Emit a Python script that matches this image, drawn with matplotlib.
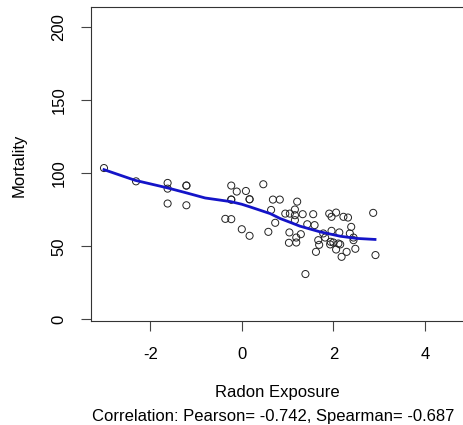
import matplotlib
matplotlib.use('Agg')
import matplotlib.pyplot as plt
import numpy as np

plt.rcParams['font.family'] = ['Liberation Sans', 'DejaVu Sans']

# radon exposure (centred log) vs mortality
radon = [-3.01, -2.31, -1.62, -1.62, -1.62, -1.21, -1.21, -1.21, -0.36, -0.23,
         -0.23, -0.23, -0.23, -0.11, 0.00, 0.09, 0.17, 0.17, 0.17, 0.47,
         0.58, 0.64, 0.68, 0.83, 0.73, 0.95, 1.04, 1.03, 1.05, 1.16,
         1.16, 1.16, 1.21, 1.19, 1.19, 1.29, 1.33, 1.39, 1.43, 1.56,
         1.59, 1.62, 1.67, 1.69, 1.78, 1.91, 1.96, 2.06, 1.96, 1.94,
         1.93, 2.00, 2.06, 2.11, 2.13, 2.15, 2.18, 2.22, 2.32, 2.29,
         2.39, 2.36, 2.44, 2.48, 2.87, 2.92, 2.44, 1.82]
mortality = [103.6, 94.5, 93.4, 89.5, 79.3, 91.6, 91.6, 78.1, 68.8, 68.6,
             91.6, 82.0, 82.0, 87.5, 61.7, 87.9, 82.2, 82.2, 57.2, 92.5,
             59.9, 74.9, 82.0, 82.0, 66.1, 72.4, 59.5, 52.4, 72.4, 75.2,
             71.3, 67.9, 80.6, 56.0, 52.6, 58.3, 72.0, 31.0, 65.1, 72.0,
             64.5, 46.2, 54.2, 51.0, 58.8, 72.4, 70.2, 73.1, 60.6, 53.1,
             51.3, 52.6, 47.8, 51.9, 59.5, 51.3, 42.8, 70.2, 69.7, 46.2,
             63.3, 58.8, 54.2, 48.3, 72.9, 44.0, 56.0, 56.0]

# smoothed curve
smooth_x = [-3.01, -2.33, -1.62, -1.21, -0.80, -0.24, 0.00, 0.18, 0.62, 0.84,
            1.05, 1.27, 1.71, 2.15, 2.51, 2.91]
smooth_y = [102.5, 95.2, 90.0, 86.6, 83.1, 80.6, 78.8, 77.0, 72.4, 69.0,
            66.5, 63.8, 59.9, 56.9, 55.4, 54.7]

x_ticks = [-2, 0, 2, 4]
y_ticks = [0, 50, 100, 150, 200]

W, H = 464, 425
fig = plt.figure(figsize=(W / 100, H / 100), dpi=100)
left, top, bottom = 90.7, 7.3, 321.0
x0, xlo, xhi, pxu = 241.7, -3.30, 5.3, 45.8
right = x0 + xhi * pxu
ax = fig.add_axes([left / W, 1 - bottom / H, (right - left) / W, (bottom - top) / H])

ax.scatter(radon, mortality, s=26, facecolors='none', edgecolors='#222222',
           linewidths=0.7, zorder=2)
ax.plot(smooth_x, smooth_y, color='#1414c8', lw=2.0, zorder=3)

ax.set_xlim(xlo, xhi)
ax.set_ylim(-1.16, 213.7)
ax.set_xticks(x_ticks)
ax.set_yticks(y_ticks)
ax.set_xticklabels([str(v) for v in x_ticks])
ax.set_yticklabels([str(v) for v in y_ticks], rotation=90, va='center')
ax.tick_params(axis='both', length=7.5, width=0.8, color='#444444', labelsize=12)
ax.tick_params(axis='x', pad=11)
ax.tick_params(axis='y', pad=10)
for s in ax.spines.values():
    s.set_color('#333333')
    s.set_linewidth(0.8)

fig.text(19.5 / W, 1 - 165 / H, 'Mortality', rotation=90, ha='center', va='center', fontsize=12)
fig.text(277 / W, 1 - 393 / H, 'Radon Exposure', ha='center', va='center', fontsize=12)
fig.text(273.5 / W, 1 - 416 / H, 'Correlation: Pearson= -0.742, Spearman= -0.687',
         ha='center', va='center', fontsize=12)

fig.savefig('out.png', dpi=100)
